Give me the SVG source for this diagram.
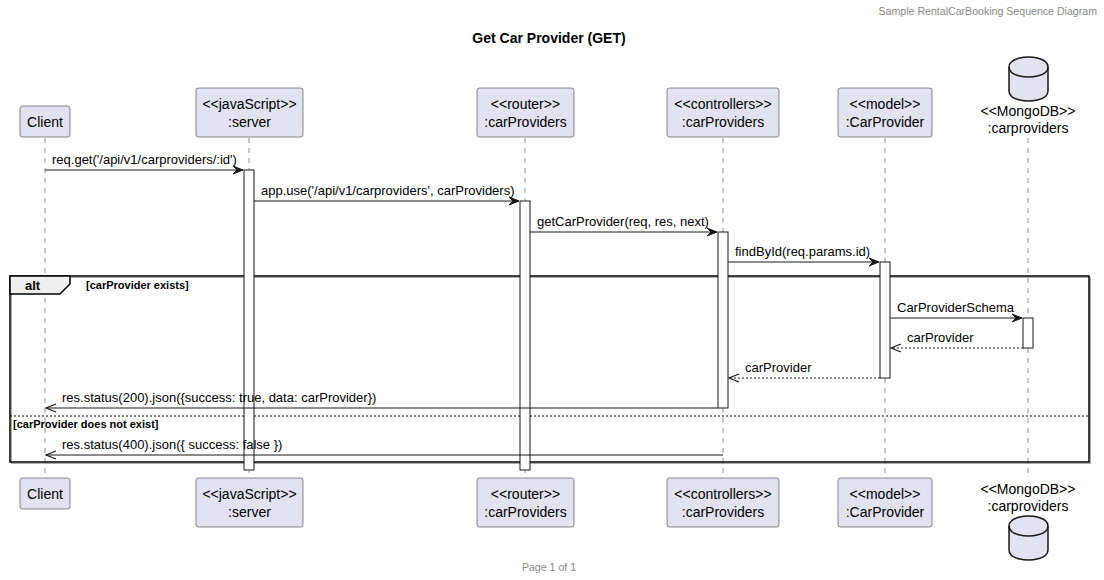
<svg xmlns="http://www.w3.org/2000/svg" width="1104" height="580" viewBox="0 0 1104 580">
<style>
text{font-family:"Liberation Sans",Arial,sans-serif;fill:#000}
.box{fill:#E2E2F0;stroke:#181818;stroke-width:0.5}
.db{fill:#E2E2F0;stroke:#181818;stroke-width:1.5}
.pt{font-size:14px;text-anchor:middle}
.life{stroke:#181818;stroke-width:0.5;stroke-dasharray:5,5}
.act{fill:#FFFFFF;stroke:#181818;stroke-width:1}
.msg{stroke:#181818;stroke-width:1;fill:none}
.ret{stroke:#181818;stroke-width:1;fill:none;stroke-dasharray:2,2}
.head{fill:#181818;stroke:#181818;stroke-width:1}
.open{fill:none;stroke:#181818;stroke-width:1.2}
.ml{font-size:13px}
.gray{font-size:10.6px;fill:#888888}
.b{font-weight:bold}
</style>
<rect width="1104" height="580" fill="#FFFFFF"/>
<text class="gray" x="1097" y="15" text-anchor="end">Sample RentalCarBooking Sequence Diagram</text>
<text class="b" x="549" y="43" font-size="14" text-anchor="middle">Get Car Provider (GET)</text>
<text class="gray" x="549" y="571" text-anchor="middle">Page 1 of 1</text>

<g id="lifelines">
<line class="life" x1="45" y1="138" x2="45" y2="478"/>
<line class="life" x1="249" y1="138" x2="249" y2="478"/>
<line class="life" x1="525" y1="138" x2="525" y2="478"/>
<line class="life" x1="723" y1="138" x2="723" y2="478"/>
<line class="life" x1="885" y1="138" x2="885" y2="478"/>
<line class="life" x1="1028" y1="138" x2="1028" y2="478"/>
</g>

<g id="alt-frame">
<rect x="11.5" y="277.5" width="1079" height="186" fill="none" stroke="#AAAAAA" stroke-width="1"/>
<rect x="10" y="276" width="1079" height="186" fill="none" stroke="#000" stroke-width="1.5"/>
<polygon points="10,276 70,276 70,284 60,294 10,294" fill="#EEEEEE" stroke="#000" stroke-width="1.5"/>
<text class="b" x="25" y="290" font-size="13">alt</text>
<text class="b" x="86" y="289" font-size="11">[carProvider exists]</text>
<line x1="10" y1="416" x2="1089" y2="416" stroke="#000" stroke-width="1" stroke-dasharray="2,2"/>
<text class="b" x="13" y="428" font-size="11">[carProvider does not exist]</text>
</g>

<g id="activations">
<rect class="act" x="244" y="170" width="10" height="300"/>
<rect class="act" x="520" y="201" width="10" height="269"/>
<rect class="act" x="718" y="232" width="10" height="176"/>
<rect class="act" x="880" y="262" width="10" height="116"/>
<rect class="act" x="1023" y="318" width="10" height="30"/>
</g>

<g id="connectors">
<line class="msg" x1="45" y1="170" x2="243" y2="170"/>
<polygon class="head" points="233,166 243,170 233,174 237,170"/>
<text class="ml" x="52" y="164">req.get('/api/v1/carproviders/:id')</text>

<line class="msg" x1="254" y1="201" x2="519" y2="201"/>
<polygon class="head" points="509,197 519,201 509,205 513,201"/>
<text class="ml" x="261" y="195">app.use('/api/v1/carproviders', carProviders)</text>

<line class="msg" x1="530" y1="232" x2="717" y2="232"/>
<polygon class="head" points="707,228 717,232 707,236 711,232"/>
<text class="ml" x="537" y="226">getCarProvider(req, res, next)</text>

<line class="msg" x1="728" y1="262" x2="879" y2="262"/>
<polygon class="head" points="869,258 879,262 869,266 873,262"/>
<text class="ml" x="735" y="256">findById(req.params.id)</text>

<line class="msg" x1="890" y1="318" x2="1022" y2="318"/>
<polygon class="head" points="1012,314 1022,318 1012,322 1016,318"/>
<text class="ml" x="897" y="312">CarProviderSchema</text>

<line class="ret" x1="1023" y1="348" x2="891" y2="348"/>
<polyline class="open" points="901,344 891,348 901,352"/>
<text class="ml" x="907" y="342">carProvider</text>

<line class="ret" x1="880" y1="378" x2="729" y2="378"/>
<polyline class="open" points="739,374 729,378 739,382"/>
<text class="ml" x="745" y="372">carProvider</text>

<line class="msg" x1="718" y1="408" x2="46" y2="408"/>
<polyline class="open" points="56,404 46,408 56,412"/>
<text class="ml" x="62" y="402">res.status(200).json({success: true, data: carProvider})</text>

<line class="msg" x1="723" y1="455" x2="46" y2="455"/>
<polyline class="open" points="56,451 46,455 56,459"/>
<text class="ml" x="62" y="449">res.status(400).json({ success: false })</text>
</g>

<g id="p-client">
<rect class="box" x="20" y="106" width="50" height="31" rx="2.5"/>
<text class="pt" x="45" y="127">Client</text>
<rect class="box" x="20" y="478" width="50" height="31" rx="2.5"/>
<text class="pt" x="45" y="499">Client</text>
</g>

<g id="p-server">
<rect class="box" x="196" y="88" width="107" height="49" rx="2.5"/>
<text class="pt" x="249.5" y="109">&lt;&lt;javaScript&gt;&gt;</text>
<text class="pt" x="249.5" y="127">:server</text>
<rect class="box" x="196" y="478" width="107" height="49" rx="2.5"/>
<text class="pt" x="249.5" y="499">&lt;&lt;javaScript&gt;&gt;</text>
<text class="pt" x="249.5" y="517">:server</text>
</g>

<g id="p-router">
<rect class="box" x="477" y="88" width="97" height="49" rx="2.5"/>
<text class="pt" x="525.5" y="109">&lt;&lt;router&gt;&gt;</text>
<text class="pt" x="525.5" y="127">:carProviders</text>
<rect class="box" x="477" y="478" width="97" height="49" rx="2.5"/>
<text class="pt" x="525.5" y="499">&lt;&lt;router&gt;&gt;</text>
<text class="pt" x="525.5" y="517">:carProviders</text>
</g>

<g id="p-controllers">
<rect class="box" x="667" y="88" width="112" height="49" rx="2.5"/>
<text class="pt" x="723" y="109">&lt;&lt;controllers&gt;&gt;</text>
<text class="pt" x="723" y="127">:carProviders</text>
<rect class="box" x="667" y="478" width="112" height="49" rx="2.5"/>
<text class="pt" x="723" y="499">&lt;&lt;controllers&gt;&gt;</text>
<text class="pt" x="723" y="517">:carProviders</text>
</g>

<g id="p-model">
<rect class="box" x="838" y="88" width="94" height="49" rx="2.5"/>
<text class="pt" x="885" y="109">&lt;&lt;model&gt;&gt;</text>
<text class="pt" x="885" y="127">:CarProvider</text>
<rect class="box" x="838" y="478" width="94" height="49" rx="2.5"/>
<text class="pt" x="885" y="499">&lt;&lt;model&gt;&gt;</text>
<text class="pt" x="885" y="517">:CarProvider</text>
</g>

<g id="p-mongo">
<path class="db" d="M1009,67 C1009,57 1028.5,57 1028.5,57 C1028.5,57 1048,57 1048,67 L1048,91 C1048,101 1028.5,101 1028.5,101 C1028.5,101 1009,101 1009,91 Z"/>
<path d="M1009,67 C1009,77 1028.5,77 1028.5,77 C1028.5,77 1048,77 1048,67" fill="none" stroke="#181818" stroke-width="1.5"/>
<text class="pt" x="1028" y="116">&lt;&lt;MongoDB&gt;&gt;</text>
<text class="pt" x="1028" y="133">:carproviders</text>
<text class="pt" x="1028" y="494">&lt;&lt;MongoDB&gt;&gt;</text>
<text class="pt" x="1028" y="511">:carproviders</text>
<path class="db" d="M1009,526 C1009,516 1028.5,516 1028.5,516 C1028.5,516 1048,516 1048,526 L1048,550 C1048,560 1028.5,560 1028.5,560 C1028.5,560 1009,560 1009,550 Z"/>
<path d="M1009,526 C1009,536 1028.5,536 1028.5,536 C1028.5,536 1048,536 1048,526" fill="none" stroke="#181818" stroke-width="1.5"/>
</g>
</svg>
